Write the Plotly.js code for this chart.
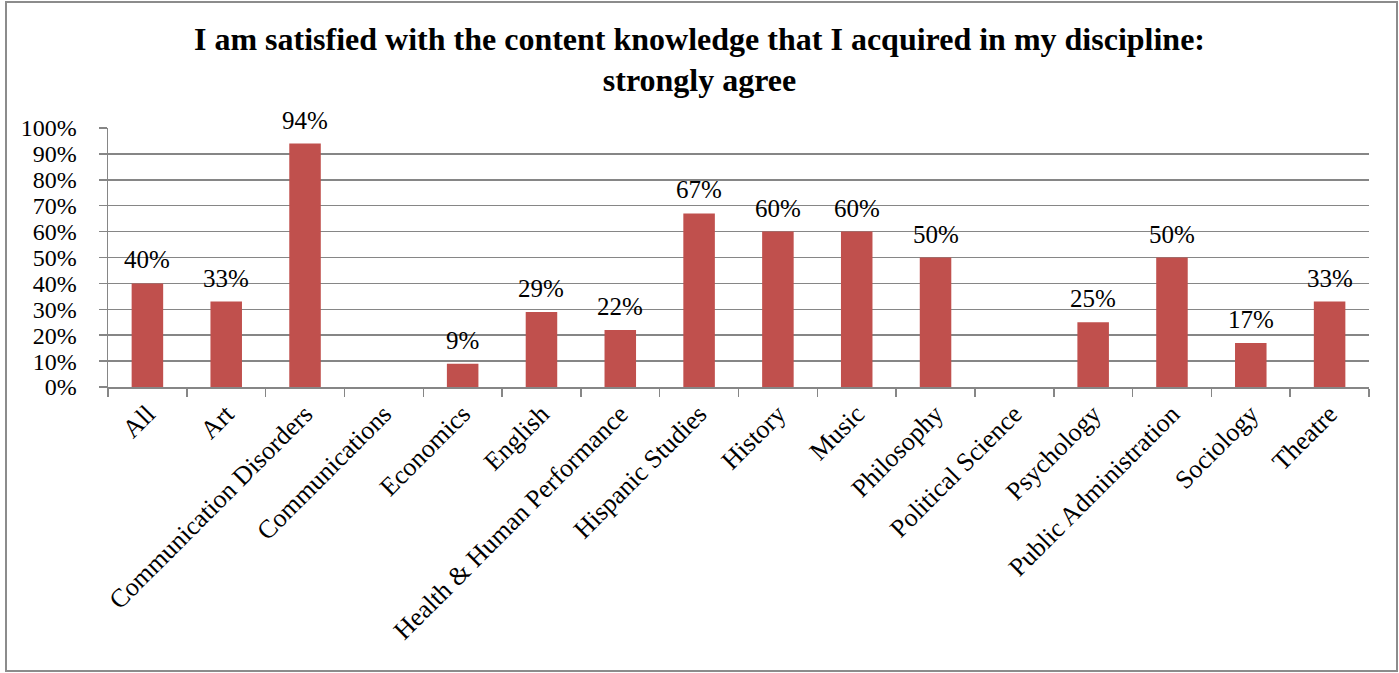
<!DOCTYPE html>
<html>
<head>
<meta charset="utf-8">
<script src="https://cdn.plot.ly/plotly-3.0.1.min.js"></script>
<style>
html,body{margin:0;padding:0;background:#fff;}
#wrap{position:relative;width:1399px;height:673px;}
#chart{position:absolute;left:0;top:0;width:1399px;height:673px;}
#frame{position:absolute;left:5px;top:1px;width:1389px;height:667px;border:2px solid #8c8c8c;pointer-events:none;}
</style>
</head>
<body>
<div id="wrap"><div id="chart"></div><div id="frame"></div></div>
<script>
const categories = ["All","Art","Communication Disorders","Communications","Economics","English","Health & Human Performance","Hispanic Studies","History","Music","Philosophy","Political Science","Psychology","Public Administration","Sociology","Theatre"];
const values = [0.40,0.33,0.94,null,0.09,0.29,0.22,0.67,0.60,0.60,0.50,null,0.25,0.50,0.17,0.33];
const labels = ["40%","33%","94%","","9%","29%","22%","67%","60%","60%","50%","","25%","50%","17%","33%"];
const yTickVals = [0,0.1,0.2,0.3,0.4,0.5,0.6,0.7,0.8,0.9,1];
const yTickText = ["0%","10%","20%","30%","40%","50%","60%","70%","80%","90%","100%"];
const titleText = "I am satisfied with the content knowledge that I acquired in my discipline:<br>strongly agree";

const font = "Liberation Serif, Times New Roman, serif";
const annotations = [];
categories.forEach((c,i)=>{
  if(values[i]!==null){
    annotations.push({x:c,y:values[i],text:labels[i],showarrow:false,yanchor:'bottom',yshift:8,
      font:{family:font,size:25,color:'#000'}});
  }
});

Plotly.newPlot('chart',[{
  type:'bar',x:categories,y:values,marker:{color:'#C0504D'},hoverinfo:'none',cliponaxis:false
}],{
  width:1399,height:673,
  margin:{l:108,r:30,t:128,b:286},
  paper_bgcolor:'#fff',plot_bgcolor:'#fff',
  bargap:0.6,
  showlegend:false,
  title:{text:titleText,x:0.5,xanchor:'center',y:0.926,yanchor:'top',yref:'container',
    font:{family:font,size:32,color:'#000',weight:'bold'}},
  xaxis:{type:'category',tickangle:-45,tickfont:{family:font,size:26,color:'#000'},
    showline:true,linecolor:'#868686',linewidth:1.5,ticks:'outside',ticklen:8,tickcolor:'#868686',tickwidth:1.5,
    tickson:'boundaries',showgrid:false,fixedrange:true},
  yaxis:{range:[0,1],tickvals:yTickVals,ticktext:yTickText,
    tickfont:{family:font,size:24,color:'#000'},showgrid:true,gridcolor:'#868686',gridwidth:1.5,
    showline:true,linecolor:'#868686',linewidth:1.5,ticks:'outside',ticklen:8,tickcolor:'#868686',tickwidth:1.5,
    ticklabelstandoff:17,zeroline:false,fixedrange:true},
  annotations:annotations
},{displayModeBar:false,staticPlot:true});
</script>
</body>
</html>
